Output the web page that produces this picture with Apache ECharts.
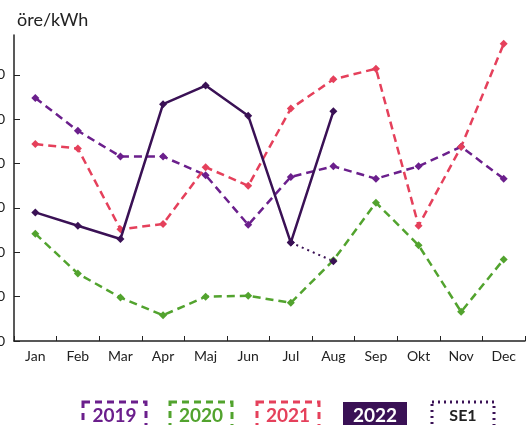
<!DOCTYPE html>
<html>
<head>
<meta charset="utf-8">
<script src="https://cdn.jsdelivr.net/npm/echarts@6/dist/echarts.min.js"></script>
<style>
  html, body { margin: 0; padding: 0; background: #fff; }
  #chart { width: 528px; height: 425px; }
</style>
</head>
<body>
<div id="chart"></div>
<script>
	var months = ['Jan', 'Feb', 'Mar', 'Apr', 'Maj', 'Jun', 'Jul', 'Aug', 'Sep', 'Okt', 'Nov', 'Dec'];
	var yTicks = [0, 50, 100, 150, 200, 250, 300];

	var price2019 = [274, 237, 208, 208, 187, 131, 185, 197, 183, 197, 219, 183];
	var price2020 = [121, 76, 49, 29, 50, 51, 43, 91, 156, 108, 33, 92];
	var price2021 = [222, 217, 126, 132, 196, 175, 262, 295, 307, 130, 219, 335];
	var price2022 = [145, 130, 115, 267, 288, 254, 111, 259];
	var priceSE1 = [null, null, null, null, null, null, 111, 90];

	var c2019 = '#6b1f8c';
	var c2020 = '#52a32e';
	var c2021 = '#e5405b';
	var c2022 = '#3a1155';
	var font = 'Lato, "Noto Sans", sans-serif';

	var chart = echarts.init(document.getElementById('chart'));

	function dashed(name, data, color) {
		return {
			name: name,
			type: 'line',
			data: data,
			symbol: 'diamond',
			symbolSize: 8,
			itemStyle: { color: color },
			lineStyle: { color: color, width: 2.5, type: [8, 5] }
		};
	}

	// legend box: dashed/dotted frame with label inside
	function legendBox(x, w, label, color, dash, filled, size) {
		return {
			type: 'group',
			children: [{
				type: 'rect',
				shape: { x: x, y: 402, width: w, height: 30 },
				style: filled ? { fill: color } : { fill: 'none', stroke: color, lineWidth: 3, lineDash: dash }
			}, {
				type: 'text',
				x: x + w / 2,
				y: 416,
				style: {
					text: label,
					fill: filled ? '#fff' : (label === 'SE1' ? '#222' : color),
					font: 'bold ' + size + 'px ' + font,
					align: 'center',
					verticalAlign: 'middle'
				}
			}]
		};
	}

	var option = {
		animation: false,
		grid: { left: 14, right: 3, top: 35, bottom: 84, containLabel: false, outerBoundsMode: 'none' },
		title: {
			text: 'öre/kWh',
			left: 12,
			top: 6,
			textStyle: { fontFamily: font, fontSize: 18, fontWeight: 'normal', color: '#222' }
		},
		xAxis: {
			type: 'category',
			data: months,
			boundaryGap: true,
			axisLine: { lineStyle: { color: '#222', width: 1.5 } },
			axisTick: { show: true, inside: true, length: 5, interval: 0, lineStyle: { color: '#222' } },
			axisLabel: { margin: 8, fontFamily: font, fontSize: 14, color: '#222', interval: 0 }
		},
		yAxis: {
			type: 'value',
			min: 0,
			max: 345,
			splitLine: { show: false },
			axisLine: { show: true, lineStyle: { color: '#222', width: 1.5 } },
			axisTick: { show: true, inside: true, length: 6, customValues: yTicks, lineStyle: { color: '#222' } },
			axisLabel: { margin: 9, fontFamily: font, fontSize: 14, color: '#222', customValues: yTicks }
		},
		series: [
			dashed('2019', price2019, c2019),
			dashed('2020', price2020, c2020),
			dashed('2021', price2021, c2021),
			{
				name: '2022',
				type: 'line',
				data: price2022,
				symbol: 'diamond',
				symbolSize: 8,
				itemStyle: { color: c2022 },
				lineStyle: { color: c2022, width: 2.5 },
				z: 4
			},
			{
				name: 'SE1',
				type: 'line',
				data: priceSE1,
				symbol: 'diamond',
				symbolSize: 8,
				itemStyle: { color: c2022 },
				lineStyle: { color: c2022, width: 2, type: [2, 4] },
				z: 3
			}
		],
		graphic: [
			legendBox(83, 63, '2019', c2019, [7, 5], false, 19),
			legendBox(170, 62, '2020', c2020, [7, 5], false, 19),
			legendBox(257, 62, '2021', c2021, [7, 5], false, 19),
			legendBox(343, 64, '2022', c2022, null, true, 19),
			legendBox(432, 62, 'SE1', c2022, [2, 4], false, 16)
		]
	};
	chart.setOption(option);
</script>
</body>
</html>
